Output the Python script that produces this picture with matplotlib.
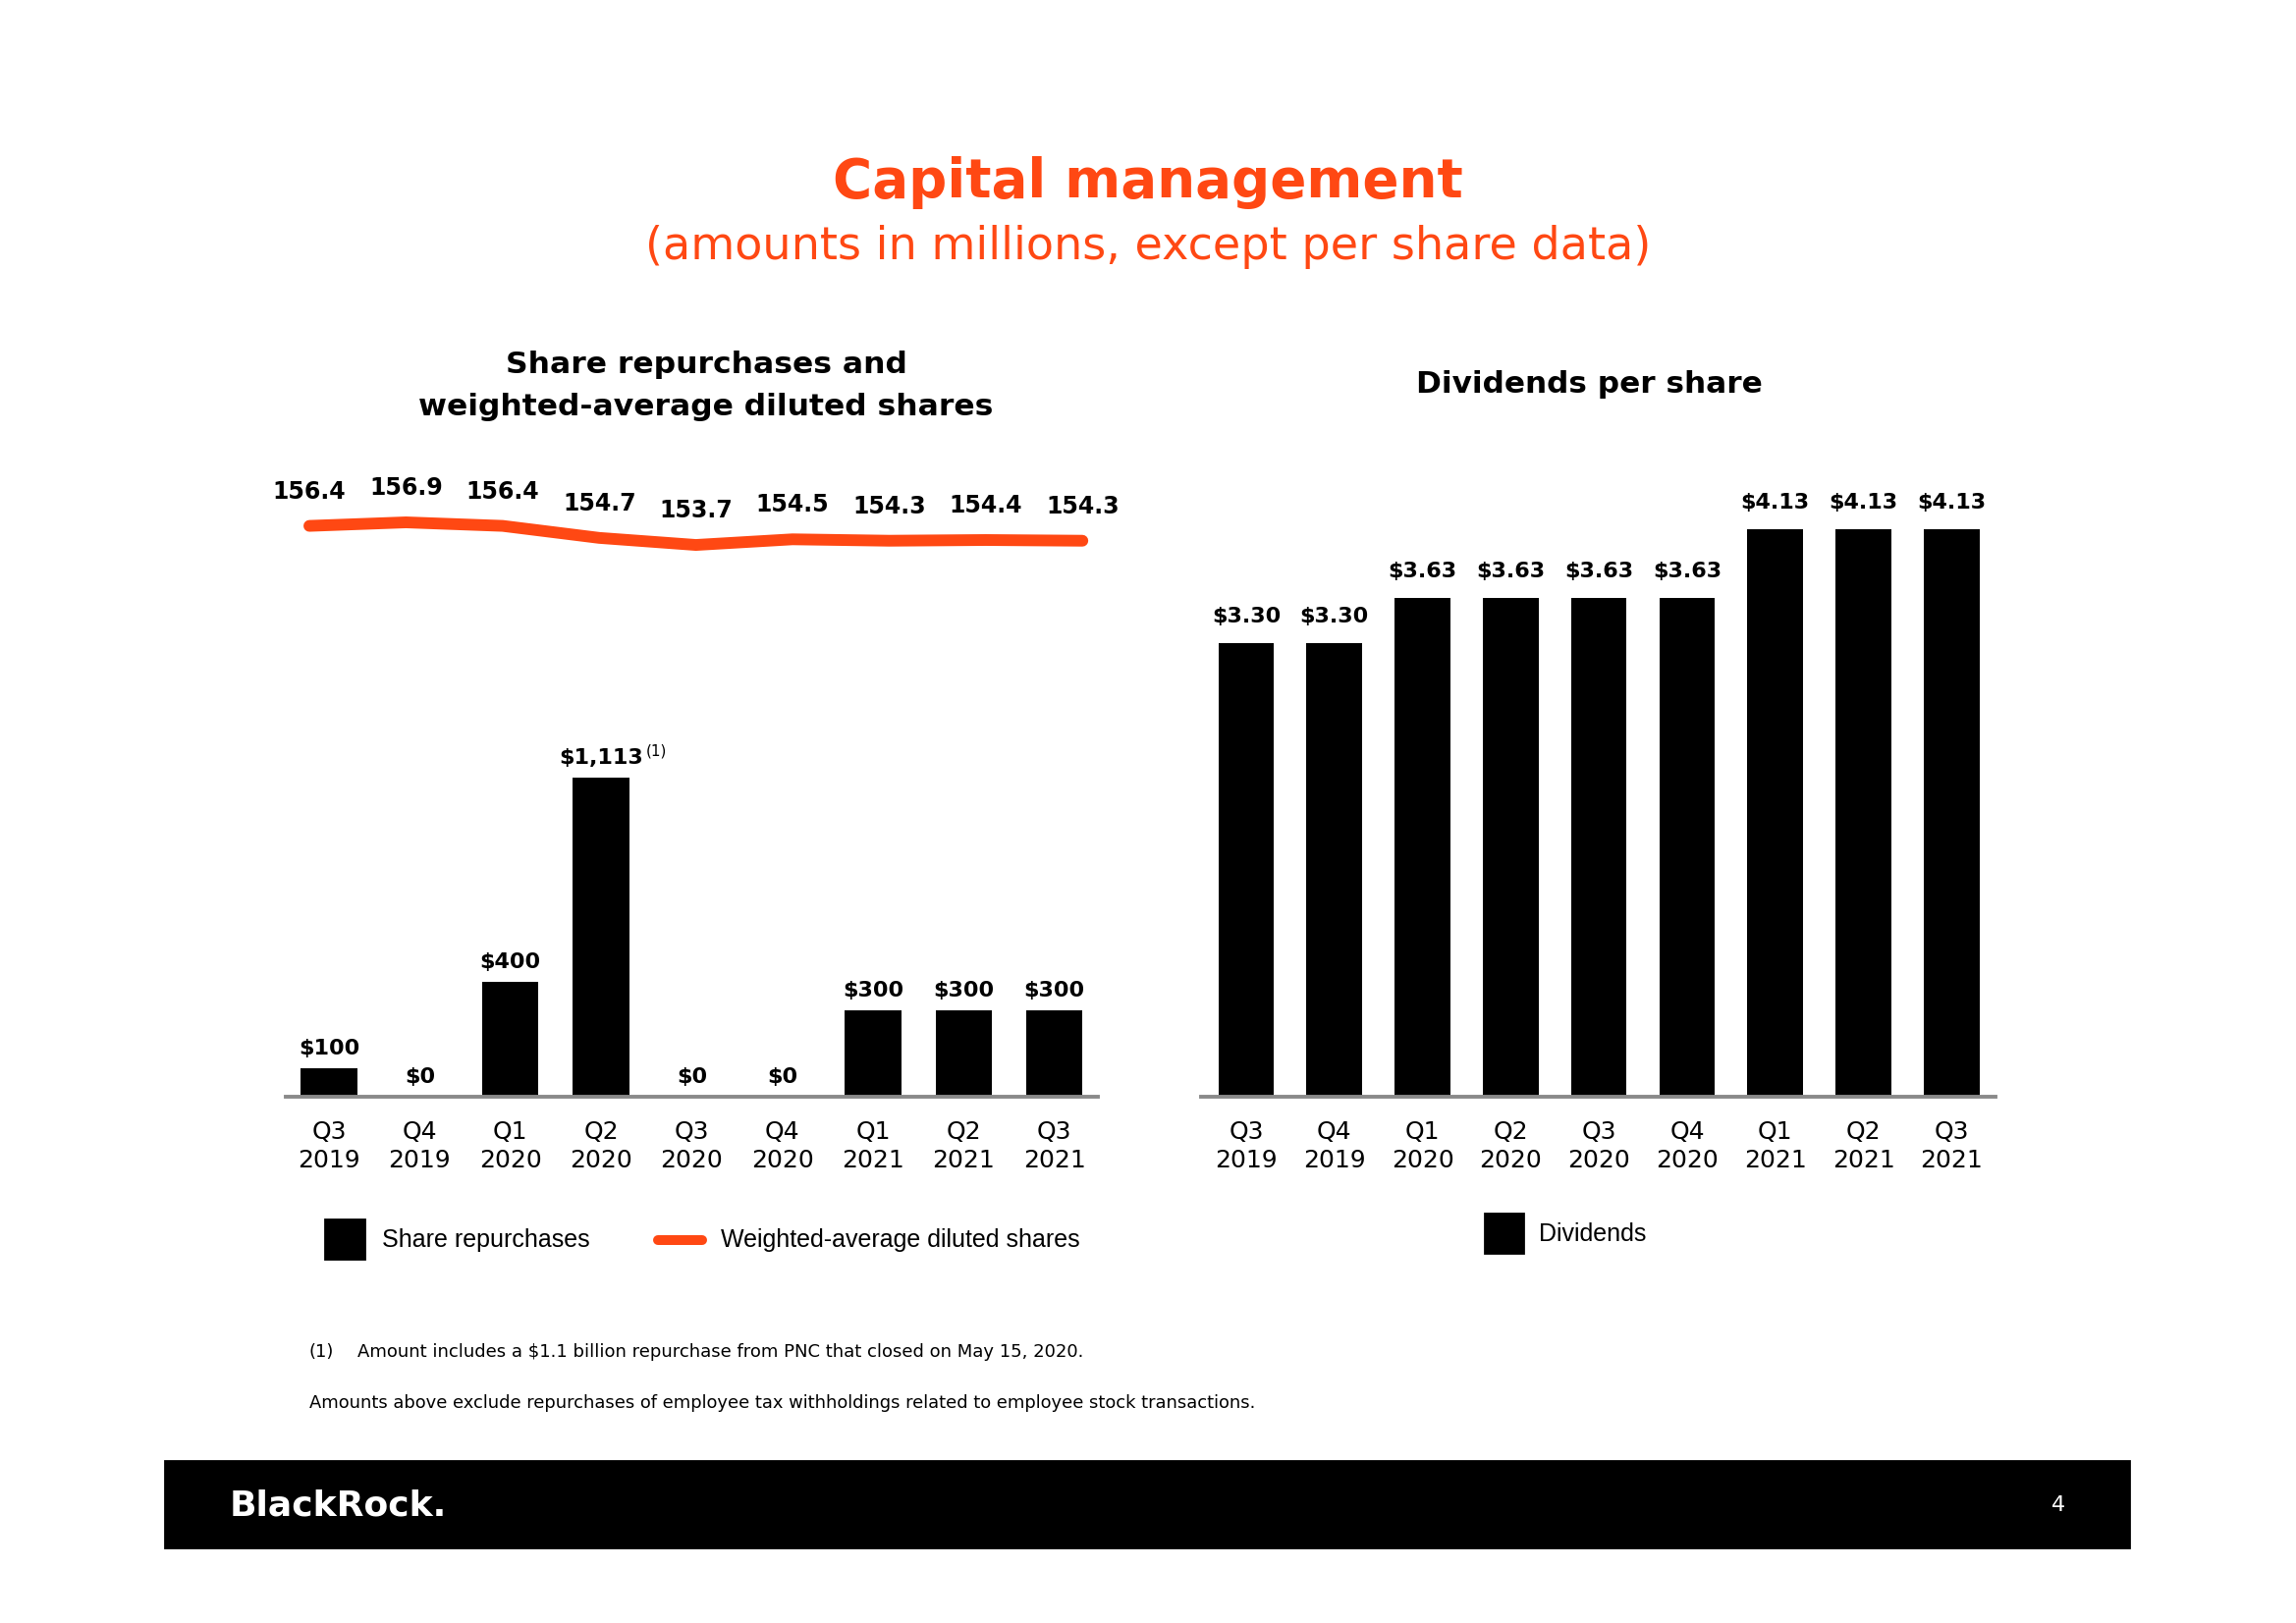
import matplotlib.pyplot as plt
from matplotlib.patches import Rectangle
from matplotlib.lines import Line2D

W, H, DPI = 2338, 1653, 200
ORANGE = '#ff4813'
GRAY = '#8a8a8a'

quarters = ['Q3\n2019', 'Q4\n2019', 'Q1\n2020', 'Q2\n2020', 'Q3\n2020',
            'Q4\n2020', 'Q1\n2021', 'Q2\n2021', 'Q3\n2021']
repurchases = [100, 0, 400, 1113, 0, 0, 300, 300, 300]
diluted_shares = [156.4, 156.9, 156.4, 154.7, 153.7, 154.5, 154.3, 154.4, 154.3]
dividends = [3.30, 3.30, 3.63, 3.63, 3.63, 3.63, 4.13, 4.13, 4.13]

plt.rcParams['font.family'] = 'DejaVu Sans'


def box(left, top, right, bottom):
    # pixel box (from top-left) -> figure fraction rect
    return [left / W, 1 - bottom / H, (right - left) / W, (bottom - top) / H]


def fx(x):
    return x / W


def fy(y):
    return 1 - y / H


def style_bar_axes(ax):
    for s in ['top', 'right', 'left']:
        ax.spines[s].set_visible(False)
    ax.spines['bottom'].set_color(GRAY)
    ax.spines['bottom'].set_linewidth(1.4)
    ax.set_yticks([])
    ax.set_xticks(range(len(quarters)), quarters)
    ax.tick_params(axis='x', length=0, pad=8.5, labelsize=9)
    for lbl in ax.get_xticklabels():
        lbl.set_linespacing(1.3)
    ax.patch.set_alpha(0)


fig = plt.figure(figsize=(W / DPI, H / DPI), dpi=DPI)

# titles
fig.text(0.5, fy(186), 'Capital management', ha='center', va='center',
         fontsize=19.7, fontweight='bold', color=ORANGE)
fig.text(0.5, fy(251), '(amounts in millions, except per share data)',
         ha='center', va='center', fontsize=16.6, color=ORANGE)
fig.text(fx(719), fy(393), 'Share repurchases and\nweighted-average diluted shares',
         ha='center', va='center', fontsize=11.3, fontweight='bold', linespacing=1.6)
fig.text(fx(1618), fy(392), 'Dividends per share', ha='center', va='center',
         fontsize=11.2, fontweight='bold')

# share repurchases bars
ax1 = fig.add_axes(box(291, 600, 1118, 1117))
x = list(range(len(quarters)))
ax1.bar(x, repurchases, width=0.62, color='black')
ax1.set_xlim(-0.477, 8.48)
ax1.set_ylim(0, 517 * 1113 / 325)
style_bar_axes(ax1)
for i, v in enumerate(repurchases):
    t = ax1.annotate(f'${v:,.0f}', (i, v), xytext=(0, 7.2), textcoords='offset points',
                     ha='center', va='center', fontsize=8, fontweight='bold')
    if v == max(repurchases):
        ax1.annotate('(1)', xy=(1, 0.85), xycoords=t, xytext=(1, 0),
                     textcoords='offset points', ha='left', va='center', fontsize=5.5)

# weighted-average diluted shares line
ax2 = fig.add_axes(box(291, 450, 1118, 650))
ax2.plot(x, diluted_shares, color=ORANGE, lw=4.3, solid_capstyle='round',
         solid_joinstyle='round')
ax2.set_xlim(-(315 - 291) / 98.4, (1118 - 315) / 98.4)
lo = 156.9 - (650 - 532) / 7.2
ax2.set_ylim(lo, lo + 200 / 7.2)
ax2.axis('off')
for i, v in enumerate(diluted_shares):
    ax2.annotate(f'{v:.1f}', (i, v), xytext=(0, 12.6), textcoords='offset points',
                 ha='center', va='center', fontsize=8.5, fontweight='bold')

# dividends per share bars
ax3 = fig.add_axes(box(1223, 450, 2032, 1117))
ax3.bar(x, dividends, width=0.63, color='black')
ax3.set_xlim(-0.512, 8.497)
ax3.set_ylim(0, 667 / 140)
style_bar_axes(ax3)
for i, v in enumerate(dividends):
    ax3.annotate(f'${v:.2f}', (i, v), xytext=(0, 9.7), textcoords='offset points',
                 ha='center', va='center', fontsize=8, fontweight='bold')

# legends
fig.add_artist(Rectangle((fx(331), fy(1282)), 40 / W, 40 / H, color='black',
                         transform=fig.transFigure))
fig.text(fx(389), fy(1263), 'Share repurchases', va='center', fontsize=9,
         family='Liberation Sans')
fig.add_artist(Line2D([fx(670), fx(715)], [fy(1263), fy(1263)], color=ORANGE, lw=3.6,
                      solid_capstyle='round', transform=fig.transFigure))
fig.text(fx(734), fy(1263), 'Weighted-average diluted shares', va='center', fontsize=9,
         family='Liberation Sans')
fig.add_artist(Rectangle((fx(1512), fy(1276)), 39 / W, 40 / H, color='black',
                         transform=fig.transFigure))
fig.text(fx(1567), fy(1257), 'Dividends', va='center', fontsize=9,
         family='Liberation Sans')

# footnotes
fig.text(fx(315), fy(1377), '(1)', va='center', fontsize=6.5)
fig.text(fx(364), fy(1377),
         'Amount includes a $1.1 billion repurchase from PNC that closed on May 15, 2020.',
         va='center', fontsize=6.5)
fig.text(fx(315), fy(1429),
         'Amounts above exclude repurchases of employee tax withholdings related to '
         'employee stock transactions.', va='center', fontsize=6.45)

# footer
fig.add_artist(Rectangle((fx(168), fy(1576)), 2000 / W, 88 / H, color='black',
                         transform=fig.transFigure))
fig.text(fx(234), fy(1533), 'BlackRock.', va='center', fontsize=13, fontweight='bold',
         color='white')
fig.text(fx(2096), fy(1533), '4', ha='center', va='center', fontsize=8, color='white')

fig.savefig('out.png', dpi=DPI)
